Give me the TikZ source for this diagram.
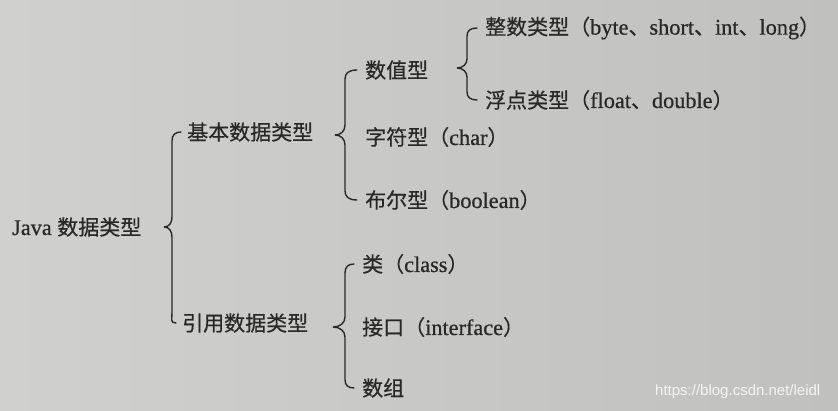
\documentclass[tikz,border=0pt]{standalone}
\usepackage{fontspec}
\setmainfont{Liberation Serif}[FakeBold=0.7,Scale=1.06]
\newfontfamily\cjk{Noto Sans CJK SC}[FakeBold=0.5]
\newfontfamily\wmfont{Liberation Sans}
\newcommand{\zh}[1]{{\cjk #1}}
\definecolor{ink}{RGB}{40,40,40}
\begin{document}
\begin{tikzpicture}[>=latex,line join=bevel,
  tnode/.style={anchor=west,inner sep=0pt,text=ink,font=\fontsize{21bp}{25bp}\selectfont},
  brace/.style={draw=ink,line width=1.4bp,line cap=round},
  ]
%%
\shade [left color={rgb,255:red,208;green,208;blue,206},right color={rgb,255:red,192;green,192;blue,190}] (0bp,0bp) rectangle (838bp,411bp);
\useasboundingbox (0bp,0bp) rectangle (838bp,411bp);
%%
\node (n_java) at (12bp,184bp) [tnode] {Java \zh{数据类型}};
  \node (n_basic) at (187bp,279bp) [tnode] {\zh{基本数据类型}};
  \node (n_ref) at (182bp,88bp) [tnode] {\zh{引用数据类型}};
  \node (n_num) at (365bp,341bp) [tnode] {\zh{数值型}};
  \node (n_char) at (365bp,274bp) [tnode] {\zh{字符型（}char\zh{）}};
  \node (n_bool) at (365bp,211bp) [tnode] {\zh{布尔型（}boolean\zh{）}};
  \node (n_int) at (485bp,383bp) [tnode] {\zh{整数类型（}byte\zh{、}short\zh{、}int\zh{、}long\zh{）}};
  \node (n_float) at (485bp,311bp) [tnode] {\zh{浮点类型（}float\zh{、}double\zh{）}};
  \node (n_class) at (362bp,147bp) [tnode] {\zh{类（}class\zh{）}};
  \node (n_iface) at (362bp,84bp) [tnode] {\zh{接口（}interface\zh{）}};
  \node (n_array) at (362bp,23bp) [tnode] {\zh{数组}};
  \node (n_mark) at (655bp,19bp) [anchor=west,inner sep=0pt,text={rgb,255:red,244;green,244;blue,244},font=\wmfont\fontsize{15bp}{18bp}\selectfont] {https://blog.csdn.net/leidl};
%% braces
\draw [brace] ([xshift=-6bp]n_basic.west) ..controls (175bp,279bp) and (172bp,276bp) .. (172bp,270bp) -- (172bp,194bp) ..controls (172bp,188bp) and (169bp,184bp) .. (164bp,184bp) ..controls (169bp,184bp) and (172bp,180bp) .. (172bp,174bp) -- (172bp,98bp) ..controls (172bp,92bp) and (170bp,88bp) .. ([xshift=-6bp]n_ref.west);
  \draw [brace] ([xshift=-8bp]n_num.west) ..controls (349bp,341bp) and (345bp,338bp) .. (345bp,332bp) -- (345bp,286bp) ..controls (345bp,280bp) and (341bp,276bp) .. (335bp,276bp) ..controls (341bp,276bp) and (345bp,272bp) .. (345bp,266bp) -- (345bp,220bp) ..controls (345bp,214bp) and (349bp,211bp) .. ([xshift=-8bp]n_bool.west);
  \draw [brace] ([xshift=-8bp]n_int.west) ..controls (470bp,383bp) and (467bp,380bp) .. (467bp,375bp) -- (467bp,352bp) ..controls (467bp,347bp) and (463bp,343bp) .. (457bp,343bp) ..controls (463bp,343bp) and (467bp,339bp) .. (467bp,334bp) -- (467bp,319bp) ..controls (467bp,314bp) and (470bp,311bp) .. ([xshift=-8bp]n_float.west);
  \draw [brace] ([xshift=-8bp]n_class.west) ..controls (348bp,147bp) and (345bp,144bp) .. (345bp,138bp) -- (345bp,94bp) ..controls (345bp,88bp) and (340bp,84bp) .. (333bp,84bp) ..controls (340bp,84bp) and (345bp,80bp) .. (345bp,74bp) -- (345bp,31bp) ..controls (345bp,26bp) and (348bp,23bp) .. ([xshift=-8bp]n_array.west);
%
\end{tikzpicture}
\end{document}
